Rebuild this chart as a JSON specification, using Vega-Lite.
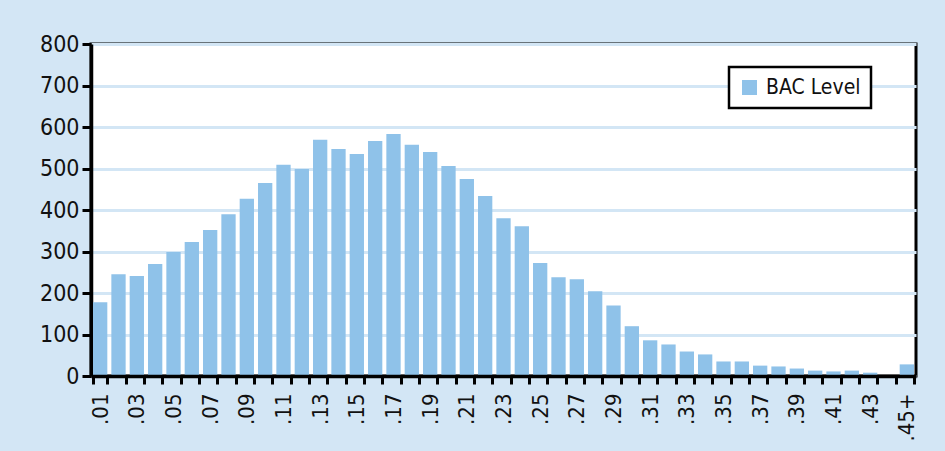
{
  "$schema": "https://vega.github.io/schema/vega-lite/v6.json",
  "autosize": "none",
  "width": 825,
  "height": 332,
  "padding": {"left": 91, "top": 44, "right": 29, "bottom": 75},
  "background": "#d3e6f5",
  "config": {
    "view": {"stroke": "#000000", "strokeWidth": 3, "fill": "#ffffff"},
    "font": "DejaVu Sans Condensed"
  },
  "data": {
    "values": [
      {"bac": ".01", "count": 178}, {"bac": ".02", "count": 245}, {"bac": ".03", "count": 241},
      {"bac": ".04", "count": 270}, {"bac": ".05", "count": 299}, {"bac": ".06", "count": 323},
      {"bac": ".07", "count": 352}, {"bac": ".08", "count": 390}, {"bac": ".09", "count": 427},
      {"bac": ".10", "count": 465}, {"bac": ".11", "count": 509}, {"bac": ".12", "count": 499},
      {"bac": ".13", "count": 569}, {"bac": ".14", "count": 547}, {"bac": ".15", "count": 535},
      {"bac": ".16", "count": 566}, {"bac": ".17", "count": 583}, {"bac": ".18", "count": 557},
      {"bac": ".19", "count": 540}, {"bac": ".20", "count": 506}, {"bac": ".21", "count": 475},
      {"bac": ".22", "count": 434}, {"bac": ".23", "count": 380}, {"bac": ".24", "count": 361},
      {"bac": ".25", "count": 272}, {"bac": ".26", "count": 238}, {"bac": ".27", "count": 233},
      {"bac": ".28", "count": 204}, {"bac": ".29", "count": 170}, {"bac": ".30", "count": 120},
      {"bac": ".31", "count": 86}, {"bac": ".32", "count": 76}, {"bac": ".33", "count": 59},
      {"bac": ".34", "count": 52}, {"bac": ".35", "count": 35}, {"bac": ".36", "count": 35},
      {"bac": ".37", "count": 25}, {"bac": ".38", "count": 23}, {"bac": ".39", "count": 18},
      {"bac": ".40", "count": 13}, {"bac": ".41", "count": 11}, {"bac": ".42", "count": 13},
      {"bac": ".43", "count": 8}, {"bac": ".44", "count": 0}, {"bac": ".45+", "count": 28}
    ]
  },
  "mark": {"type": "bar"},
  "encoding": {
    "x": {
      "field": "bac",
      "type": "nominal",
      "sort": null,
      "scale": {"paddingInner": 0.22, "paddingOuter": 0.11},
      "axis": {
        "title": null,
        "zindex": 1,
        "grid": false,
        "labelAngle": 270,
        "labelFontSize": 22,
        "labelColor": "#111111",
        "labelPadding": 9,
        "labelExpr": "test(/[13579]$|[+]$/, datum.value) ? datum.value : ''",
        "tickBand": "extent",
        "domainColor": "#000000",
        "domainWidth": 3.5,
        "tickColor": "#000000",
        "tickWidth": 3,
        "tickSize": 8,
        "labelOverlap": false
      }
    },
    "y": {
      "field": "count",
      "type": "quantitative",
      "scale": {"domain": [0, 800]},
      "axis": {
        "title": null,
        "values": [0, 100, 200, 300, 400, 500, 600, 700, 800],
        "labelFontSize": 23,
        "labelColor": "#111111",
        "labelPadding": 3,
        "domainColor": "#000000",
        "domainWidth": 3.5,
        "tickColor": "#000000",
        "tickWidth": 3,
        "tickSize": 9,
        "gridColor": "#d3e6f5",
        "gridWidth": 3,
        "gridOpacity": 1
      }
    },
    "color": {
      "datum": "BAC Level",
      "type": "nominal",
      "scale": {"range": ["#8fc2e9"]},
      "legend": {
        "title": null,
        "orient": "none",
        "legendX": 638,
        "legendY": 23,
        "fillColor": "#ffffff",
        "strokeColor": "#000000",
        "padding": 10,
        "symbolType": "square",
        "symbolSize": 225,
        "symbolStrokeWidth": 0,
        "symbolOpacity": 1,
        "labelFontSize": 21,
        "labelColor": "#111111",
        "labelOffset": 6,
        "encode": {"legend": {"update": {"strokeWidth": {"value": 2.5}}}}
      }
    }
  }
}
